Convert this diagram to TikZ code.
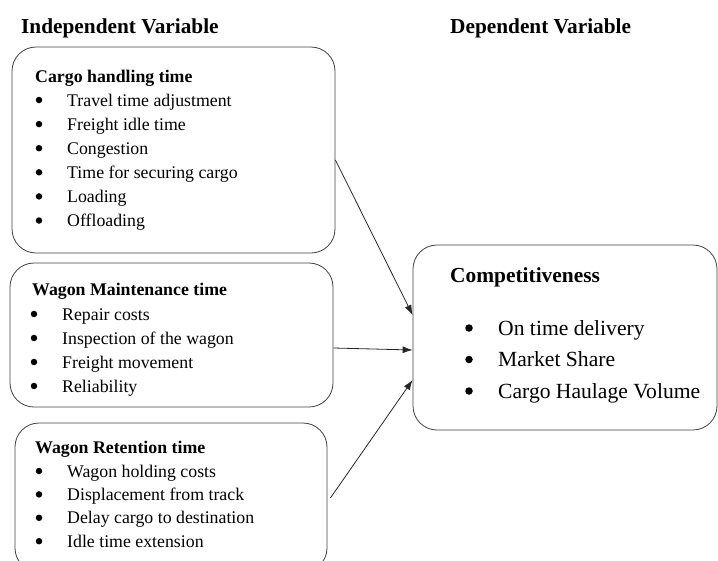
\documentclass[tikz,border=0pt]{standalone}
\usepackage{fontspec}
\setmainfont{Liberation Serif}
\usetikzlibrary{arrows.meta}

\tikzset{
  box/.style={draw=black!75, line width=0.8pt, rounded corners=24pt, inner sep=0pt},
  head/.style={anchor=base west, inner sep=0pt, font=\fontsize{21.3}{25}\selectfont\bfseries},
  title/.style={anchor=base west, inner sep=0pt, font=\fontsize{17.8}{22}\selectfont\bfseries},
  entry/.style={anchor=base west, inner sep=0pt, font=\fontsize{17.8}{22}\selectfont},
  dot/.style={circle, fill=black, inner sep=0pt, minimum size=6.5pt},
  bigtitle/.style={anchor=base west, inner sep=0pt, font=\fontsize{21.4}{25}\selectfont\bfseries},
  bigentry/.style={anchor=base west, inner sep=0pt, font=\fontsize{21.6}{26}\selectfont},
  bigdot/.style={circle, fill=black, inner sep=0pt, minimum size=7.5pt},
  link/.style={draw=black!85, line width=0.8pt, -{Latex[length=10pt,width=7pt]}}
}

\begin{document}
\begin{tikzpicture}[x=1pt,y=-1pt]
\useasboundingbox (0,0) rectangle (718,560);

% headings
\node[head] (indep) at (21,33) {Independent Variable};
\node[head] (dep) at (450,33) {Dependent Variable};

% boxes
\node[box, minimum width=323pt, minimum height=206pt] (cargo) at (173.5,150) {};
\node[box, minimum width=323pt, minimum height=144pt] (maint) at (171.5,335) {};
\node[box, minimum width=312pt, minimum height=149pt] (retain) at (171,497.5) {};
\node[box, minimum width=304pt, minimum height=185pt] (compet) at (565,337.5) {};

% cargo handling
\node[title] (cargot) at (35,82) {Cargo handling time};
\foreach \txt [count=\i from 0] in {Travel time adjustment, Freight idle time,
    Congestion, Time for securing cargo, Loading, Offloading} {
  \node[dot] (cd\i) at (39,100+24.1*\i) {};
  \node[entry] (ce\i) at (67,106+24.1*\i) {\txt};
}

% maintenance
\node[title] (maintt) at (32,295) {Wagon Maintenance time};
\foreach \txt [count=\i from 0] in {Repair costs, Inspection of the wagon,
    Freight movement, Reliability} {
  \node[dot] (md\i) at (34,314+24*\i) {};
  \node[entry] (me\i) at (62,320+24*\i) {\txt};
}

% retention
\node[title] (retaint) at (35,453) {Wagon Retention time};
\foreach \txt [count=\i from 0] in {Wagon holding costs, Displacement from track,
    Delay cargo to destination, Idle time extension} {
  \node[dot] (rd\i) at (39,471+23.4*\i) {};
  \node[entry] (re\i) at (67,477+23.4*\i) {\txt};
}

% competitiveness
\node[bigtitle] (compt) at (450,282) {Competitiveness};
\foreach \txt [count=\i from 0] in {On time delivery, Market Share,
    Cargo Haulage Volume} {
  \node[bigdot] (pd\i) at (469,328+31.5*\i) {};
  \node[bigentry] (pe\i) at (498,335+31.5*\i) {\txt};
}

% arrows
\draw[link] ([yshift=-10pt]cargo.east) -- ([yshift=22.5pt]compet.west);
\draw[link] ([yshift=-13pt]maint.east) -- ([yshift=-12.5pt]compet.west);
\draw[link] ([xshift=3pt,yshift=-0.5pt]retain.east) -- ([yshift=-42.5pt]compet.west);
\end{tikzpicture}
\end{document}
